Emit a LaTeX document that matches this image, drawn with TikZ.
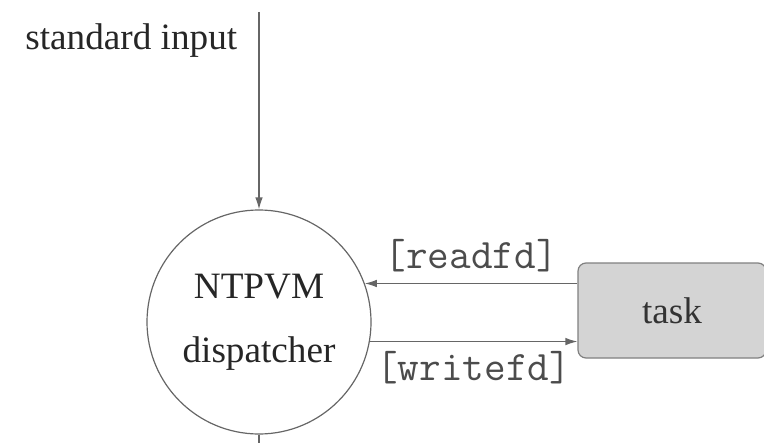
\documentclass[tikz,border=0pt]{standalone}
\usepackage{fontspec}
\setmainfont{Liberation Serif}
\usepackage{tikz}
\usetikzlibrary{arrows.meta,positioning,calc}

\begin{document}
\begin{tikzpicture}[x=0.5pt, y=-0.5pt]
  \tikzstyle{proc} = [circle, draw=black!60, line width=0.6pt, minimum size=112pt, inner sep=0pt, align=center,
                      text=black!85, font=\fontsize{18.6}{32}\selectfont]
  \tikzstyle{taskbox} = [rectangle, rounded corners=4pt, draw=black!50, line width=0.6pt, fill=black!17,
                         minimum width=94pt, minimum height=47.5pt, text=black!80, font=\fontsize{18.6}{22}\selectfont]
  \tikzstyle{arrow} = [-{Latex[length=6pt,width=3.8pt]}, draw=black!60, line width=0.6pt]
  \tikzstyle{fdlabel} = [font=\fontsize{21}{24}\ttfamily, text=black!70]
  \useasboundingbox (0,0) rectangle (764,443);
  \node[proc] (disp) at (259,322) {NTPVM\\dispatcher};
  \node[taskbox] (task) at (672,310.5) {task};
  \node[anchor=base west, inner sep=0pt, text=black!85, font=\fontsize{18.6}{22}\selectfont] (stdin) at (25,50) {standard input};
  \coordinate (top) at (259,12);
  \coordinate (bot) at (259,443);
  \draw[arrow] (top) -- (disp.north);
  \draw[draw=black!60, line width=0.6pt] (disp.south) -- (bot);
  \draw[arrow] (task.west |- disp.20) -- node[fdlabel, yshift=14pt] {[readfd]} (disp.20);
  \draw[arrow] (disp.-10) -- node[fdlabel, yshift=-13pt] {[writefd]} (task.west |- disp.-10);
\end{tikzpicture}
\end{document}
